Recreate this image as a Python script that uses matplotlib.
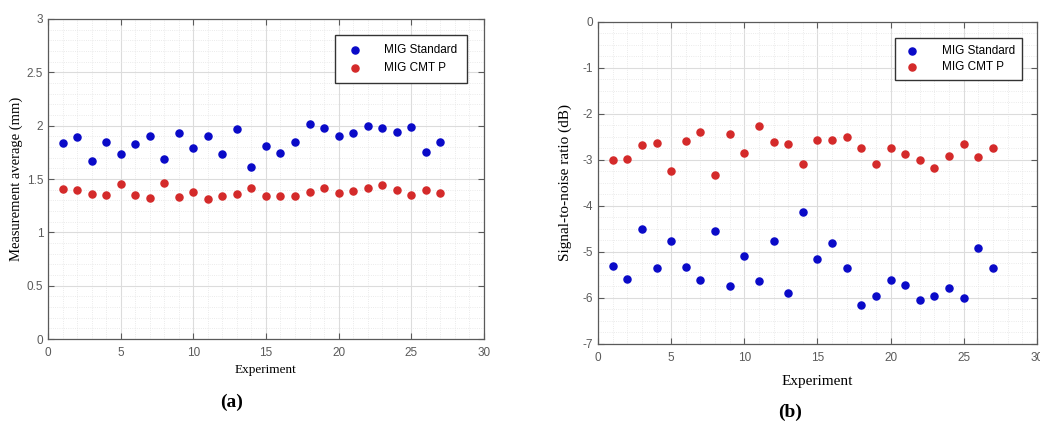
import numpy as np
import matplotlib.pyplot as plt
from matplotlib.ticker import MultipleLocator, FuncFormatter

# Experiment numbers
exp = np.arange(1, 28)

# (a) Measurement average (mm)
avg_std = [1.84, 1.89, 1.67, 1.85, 1.73, 1.83, 1.90, 1.69, 1.93, 1.79,
           1.90, 1.73, 1.97, 1.61, 1.81, 1.74, 1.85, 2.02, 1.98, 1.90,
           1.93, 2.00, 1.98, 1.94, 1.99, 1.75, 1.85]
avg_cmt = [1.41, 1.40, 1.36, 1.35, 1.45, 1.35, 1.32, 1.46, 1.33, 1.38,
           1.31, 1.34, 1.36, 1.42, 1.34, 1.34, 1.34, 1.38, 1.42, 1.37,
           1.39, 1.42, 1.44, 1.40, 1.35, 1.40, 1.37]

# (b) Signal-to-noise ratio (dB)
sn_std = [-5.30, -5.58, -4.50, -5.34, -4.77, -5.32, -5.61, -4.55, -5.73, -5.09,
          -5.64, -4.77, -5.89, -4.12, -5.15, -4.81, -5.35, -6.16, -5.95, -5.61,
          -5.71, -6.05, -5.95, -5.78, -5.99, -4.91, -5.35]
sn_cmt = [-3.00, -2.97, -2.67, -2.63, -3.23, -2.59, -2.40, -3.32, -2.44, -2.85,
          -2.27, -2.61, -2.65, -3.08, -2.57, -2.57, -2.49, -2.73, -3.09, -2.73,
          -2.87, -3.01, -3.17, -2.92, -2.66, -2.94, -2.73]

labels = ['MIG Standard', 'MIG CMT P']
blue = '#0a0ac8'
red = '#d42a2a'
tickcol = '#5a5a5a'
serif = ['Liberation Serif', 'DejaVu Serif']
sans = ['Liberation Sans', 'DejaVu Sans']

# matlab-ish tick labels: 3, 2.5, -1 ...
fmt = FuncFormatter(lambda v, p: ('%g' % v).replace('\u2212', '-'))


def style(ax, ymin, ymax, ystep, yminor):
    ax.set_xlim(0, 30)
    ax.set_ylim(ymin, ymax)
    ax.xaxis.set_major_locator(MultipleLocator(5))
    ax.xaxis.set_minor_locator(MultipleLocator(1))
    ax.yaxis.set_major_locator(MultipleLocator(ystep))
    ax.yaxis.set_minor_locator(MultipleLocator(yminor))
    ax.xaxis.set_major_formatter(fmt)
    ax.yaxis.set_major_formatter(fmt)
    ax.grid(which='major', color='#dcdcdc', lw=0.8)
    ax.grid(which='minor', color='#e4e4e4', lw=0.6, ls=':')
    ax.set_axisbelow(True)
    ax.tick_params(which='both', direction='in', top=True, right=True,
                   colors=tickcol, labelsize=8.5, labelcolor=tickcol)
    ax.tick_params(which='minor', length=0)
    ax.tick_params(which='major', length=4, width=0.8)
    ax.tick_params(axis='x', pad=6)
    for t in ax.get_xticklabels() + ax.get_yticklabels():
        t.set_family(sans)
    for s in ax.spines.values():
        s.set_color('#5a5a5a')
        s.set_linewidth(0.9)


fig = plt.figure(figsize=(10.4, 4.26), dpi=100)
ax1 = fig.add_axes([0.0462, 0.2042, 0.419, 0.7512])
ax2 = fig.add_axes([0.575, 0.1925, 0.422, 0.7559])

ax1.scatter(exp, avg_std, s=26, color=blue, label=labels[0], zorder=3)
ax1.scatter(exp, avg_cmt, s=26, color=red, label=labels[1], zorder=3)
style(ax1, 0, 3, 0.5, 0.1)
ax1.set_xlabel('Experiment', family=serif, fontsize=9.5, labelpad=3)
ax1.set_ylabel('Measurement average (mm)', family=serif, fontsize=10.5,
               labelpad=3)
ax1.legend(loc='upper right', bbox_to_anchor=(0.975, 0.97),
           prop={'family': sans, 'size': 8.5},
           fancybox=False, edgecolor='#333333', framealpha=1,
           handletextpad=1.6, borderpad=0.8, labelspacing=0.5,
           handlelength=1.8)

ax2.scatter(exp, sn_std, s=26, color=blue, label=labels[0], zorder=3)
ax2.scatter(exp, sn_cmt, s=26, color=red, label=labels[1], zorder=3)
style(ax2, -7, 0, 1, 0.25)
ax2.set_xlabel('Experiment', family=serif, fontsize=11, labelpad=8)
ax2.set_ylabel('Signal-to-noise ratio (dB)', family=serif, fontsize=11,
               labelpad=8)
ax2.legend(loc='upper right', bbox_to_anchor=(0.98, 0.97),
           prop={'family': sans, 'size': 8.5},
           fancybox=False, edgecolor='#333333', framealpha=1,
           handletextpad=1.6, borderpad=0.6, labelspacing=0.35,
           handlelength=1.8)

fig.text(0.223, 0.056, '(a)', ha='center', va='center', fontsize=14,
         family=serif, weight='bold')
fig.text(0.76, 0.033, '(b)', ha='center', va='center', fontsize=14,
         family=serif, weight='bold')

fig.savefig('out.png', dpi=100)
